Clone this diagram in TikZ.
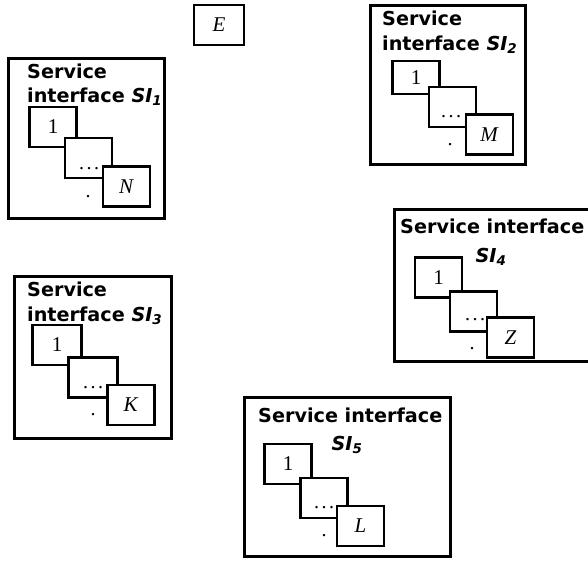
\documentclass[tikz,border=0pt]{standalone}
\usepackage{fontspec}
\newfontfamily\headfont{DejaVu Sans}
\newfontfamily\itemfont{Liberation Serif}
\newcommand{\gapdots}{.\kern2.5pt.\kern2.5pt.}
\tikzset{
  frame/.style={draw, line width=3pt},
  head/.style={font=\headfont\bfseries\fontsize{19.2}{22}\selectfont, inner sep=0pt},
  item/.style={draw, fill=white, line width=2.8pt, minimum width=47pt, minimum height=40pt, inner sep=0pt, font=\itemfont\fontsize{21}{24}\selectfont},
  gap/.style={anchor=base, inner sep=0pt, font=\itemfont\fontsize{20}{24}\selectfont},
}
\begin{document}
\begin{tikzpicture}[x=1pt, y=-1pt]
\useasboundingbox (0,0) rectangle (588,562);

\node[item, minimum width=50pt] at (219,25) (0) {\textit{E}};

% first interface
\draw[frame] (8.5,58.5) rectangle (164.5,218.5);
\node[head, anchor=west] at (27,71) (11) {Service};
\node[head, anchor=west] at (27,97) (12) {interface \textit{SI\textsubscript{1}}};
\node[item] at (53,127) (111) {1};
\node[item] at (88.5,158) (112) {};
\node[item] at (126.5,186.5) (113) {\textit{N}};
\node[gap] at (89,169) (114) {\gapdots};
\node[gap] at (88,197) (115) {.};

% second interface
\draw[frame] (370.5,5.5) rectangle (525.5,164.5);
\node[head, anchor=west] at (382,18) (21) {Service};
\node[head, anchor=west] at (382,45) (22) {interface \textit{SI\textsubscript{2}}};
\node[item, minimum height=33pt] at (416,77.5) (211) {1};
\node[item] at (452.5,107) (212) {};
\node[item] at (489.5,134.5) (213) {\textit{M}};
\node[gap] at (451,117) (214) {\gapdots};
\node[gap] at (450,145) (215) {.};

% third interface
\draw[frame] (14.5,276.5) rectangle (171.5,438.5);
\node[head, anchor=west] at (27,289) (31) {Service};
\node[head, anchor=west] at (27,316) (32) {interface \textit{SI\textsubscript{3}}};
\node[item, minimum width=49pt] at (57,345) (311) {1};
\node[item, minimum width=49pt] at (93,377.5) (312) {};
\node[item] at (131,405) (313) {\textit{K}};
\node[gap] at (93,388) (314) {\gapdots};
\node[gap] at (93,415) (315) {.};

% fourth interface
\draw[frame] (394.5,209.5) rectangle (600,361.5);
\node[head, anchor=west] at (400,226) (41) {Service interface};
\node[head] at (491,257) (42) {\textit{SI\textsubscript{4}}};
\node[item] at (438.5,277.5) (411) {1};
\node[item] at (473.5,311.5) (412) {};
\node[item] at (510.5,337.5) (413) {\textit{Z}};
\node[gap] at (475,320) (414) {\gapdots};
\node[gap] at (472,349) (415) {.};

% fifth interface
\draw[frame] (244.5,397.5) rectangle (450.5,556.5);
\node[head, anchor=west] at (258,415) (51) {Service interface};
\node[head] at (347,445) (52) {\textit{SI\textsubscript{5}}};
\node[item] at (288,464) (511) {1};
\node[item] at (324,498) (512) {};
\node[item] at (360.5,526) (513) {\textit{L}};
\node[gap] at (324,508) (514) {\gapdots};
\node[gap] at (324,536) (515) {.};
\end{tikzpicture}
\end{document}
